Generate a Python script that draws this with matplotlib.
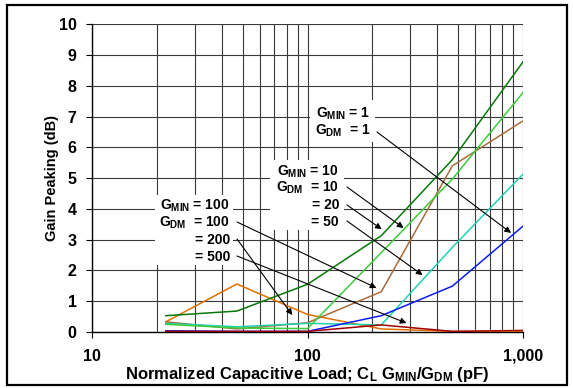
import numpy as np
import matplotlib
matplotlib.use("Agg")
import matplotlib.pyplot as plt
from matplotlib.patches import Rectangle
from matplotlib.ticker import FixedLocator, NullFormatter

plt.rcParams['font.family'] = ['Liberation Sans', 'DejaVu Sans']
plt.rcParams['font.weight'] = 'bold'
plt.rcParams['mathtext.fontset'] = 'custom'
plt.rcParams['mathtext.rm'] = 'Liberation Sans:bold'
plt.rcParams['mathtext.bf'] = 'Liberation Sans:bold'
plt.rcParams['mathtext.it'] = 'Liberation Sans:bold'

# normalized capacitive load (pF)
cload = [22, 47, 100, 220, 470, 1000]

# gain peaking (dB)
g1_dm1 = [0.04, 0.02, 0.02, 0.53, 1.49, 3.44]       # blue
g10_dm10 = [0.25, 0.13, 0.11, 2.58, 4.97, 7.78]     # light green
g10_dm20 = [0.53, 0.68, 1.55, 3.13, 5.60, 8.78]     # dark green
g10_dm50 = [0.28, 0.17, 0.28, 0.23, 2.75, 5.13]     # teal
g100_dm100 = [0.33, 0.10, 0.30, 1.31, 5.40, 6.86]   # brown
g100_dm200 = [0.33, 1.56, 0.57, 0.10, 0.02, 0.03]   # orange
g100_dm500 = [0.02, 0.02, 0.02, 0.23, 0.02, 0.05]   # dark red

xticks = [10, 100, 1000]
xticklabels = ['10', '100', '1,000']
yticks = list(range(0, 11))

fig = plt.figure(figsize=(5.73, 3.88), dpi=100)
ax = fig.add_axes([92 / 573, 1 - 332 / 388, 431 / 573, 307.7 / 388])

ax.plot(cload, g100_dm200, color='#e07000', lw=1.1, zorder=3)
ax.plot(cload, g100_dm100, color='#a86c3c', lw=1.1, zorder=3)
ax.plot(cload, g10_dm50, color='#1fd3b0', lw=1.1, zorder=3)
ax.plot(cload, g10_dm10, color='#3ccc3c', lw=1.1, zorder=3)
ax.plot(cload, g10_dm20, color='#087808', lw=1.1, zorder=3)
ax.plot(cload, g1_dm1, color='#0a1cf0', lw=1.1, zorder=3)
ax.plot(cload, g100_dm500, color='#a00000', lw=1.1, zorder=3)

ax.set_xscale('log')
ax.set_xlim(10, 1000)
ax.set_ylim(0, 10)
ax.xaxis.set_major_locator(FixedLocator(xticks))
ax.set_xticklabels(xticklabels)
ax.xaxis.set_minor_locator(FixedLocator(
    [v * d for d in (10, 100) for v in range(2, 10)]))
ax.xaxis.set_minor_formatter(NullFormatter())
ax.set_yticks(yticks)
ax.grid(True, which='both', color='#3a3a3a', lw=0.8, zorder=1)
ax.set_axisbelow(True)
ax.tick_params(axis='both', which='major', labelsize=11.5, length=4,
               width=0.8, direction='out')
ax.tick_params(axis='y', which='major', pad=7)
ax.tick_params(axis='x', which='major', pad=8)
ax.tick_params(axis='x', which='minor', length=0)
for lab in ax.get_xticklabels() + ax.get_yticklabels():
    lab.set_fontweight('bold')
for s in ['top', 'right']:
    ax.spines[s].set_visible(False)
for s in ['left', 'bottom']:
    ax.spines[s].set_linewidth(1.0)

ax.set_ylabel('Gain Peaking (dB)', fontsize=10.5, fontweight='bold', labelpad=0)
ax.set_xlabel(r'Normalized Capacitive Load; C$_\mathrm{L}$ G$_\mathrm{MIN}$/G$_\mathrm{DM}$ (pF)',
              fontsize=12, fontweight='bold', labelpad=1)

# white boxes behind the labels (figure pixels, from image top)
for (x0, y0, x1, y1) in [(310, 100, 375, 142), (270, 160, 344, 230), (155, 195, 233, 265)]:
    fig.patches.append(Rectangle((x0 / 100, (388 - y1) / 100), (x1 - x0) / 100, (y1 - y0) / 100,
                                 transform=fig.dpi_scale_trans, fc='white', ec='none', zorder=2))


def label(txt, xr, yc):
    fig.text(xr / 573, 1 - yc / 388, txt, ha='right', va='center', fontsize=10,
             fontweight='bold', zorder=5)


def arrow(x0, y0, tip):
    ax.annotate('', xy=tip, xycoords='data', xytext=(x0, 388 - y0),
                textcoords='figure pixels',
                arrowprops=dict(arrowstyle='-|>', color='black', lw=0.8,
                                mutation_scale=9, shrinkA=0, shrinkB=0),
                zorder=4)


label(r'G$_\mathrm{MIN}$ = 1', 370, 114)
label(r'G$_\mathrm{DM}$  = 1', 370, 131)
arrow(377, 132, (880, 3.22))

label(r'G$_\mathrm{MIN}$ = 10', 339, 172)
label(r'G$_\mathrm{DM}$  = 10', 339, 188)
label('= 20', 339, 205)
label('= 50', 339, 222)
arrow(347, 187, (279, 3.38))
arrow(347, 205, (221, 3.34))
arrow(347, 221, (342, 1.85))

label(r'G$_\mathrm{MIN}$ = 100', 230, 206)
label(r'G$_\mathrm{DM}$  = 100', 230, 223)
label('= 200', 230, 240)
label('= 500', 230, 257)
arrow(237, 222, (209, 1.43))
arrow(237, 239, (85, 0.55))
arrow(237, 256, (288, 0.29))

# outer frame
fig.patches.append(Rectangle((7 / 573, 3 / 388), 560 / 573, 380 / 388,
                             transform=fig.transFigure, fill=False, ec='black', lw=1.6, zorder=10))

fig.savefig('out.png', dpi=100)
